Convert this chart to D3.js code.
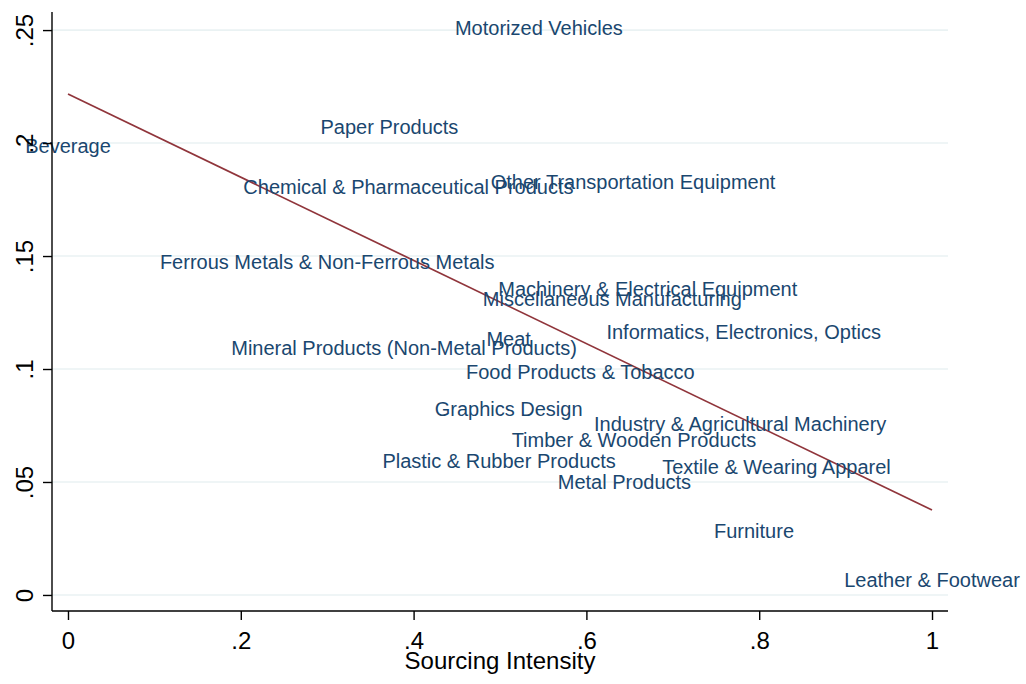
<!DOCTYPE html>
<html>
<head>
<meta charset="utf-8">
<script src="https://cdn.jsdelivr.net/npm/d3@7"></script>
<style>
  body { margin: 0; background: #fff; }
  svg { display: block; font-family: "Liberation Sans", Arial, Helvetica, sans-serif; }
  .grid line { stroke: #eaf2f3; stroke-width: 1.6; }
  .lbl { fill: #1a476f; font-size: 20px; }
  .fit { stroke: #90353b; stroke-width: 1.7; fill: none; }
</style>
</head>
<body>
<div id="chart"></div>
<script>
// industries, sourcing intensity (x) and share (y)
var industries = [
    'Motorized Vehicles', 'Paper Products', 'Beverage',
    'Chemical & Pharmaceutical Products', 'Other Transportation Equipment',
    'Ferrous Metals & Non-Ferrous Metals', 'Machinery & Electrical Equipment',
    'Miscellaneous Manufacturing', 'Informatics, Electronics, Optics', 'Meat',
    'Mineral Products (Non-Metal Products)', 'Food Products & Tobacco',
    'Graphics Design', 'Industry & Agricultural Machinery',
    'Timber & Wooden Products', 'Plastic & Rubber Products',
    'Textile & Wearing Apparel', 'Metal Products', 'Furniture', 'Leather & Footwear'
];
var sourcing = [0.545, 0.372, 0.000, 0.394, 0.654, 0.300, 0.671, 0.630, 0.782, 0.510,
                0.389, 0.593, 0.510, 0.778, 0.655, 0.499, 0.820, 0.644, 0.794, 1.000];
var share = [0.2509, 0.2071, 0.1987, 0.1805, 0.1827, 0.1473, 0.1354, 0.1310, 0.1164, 0.1133,
             0.1093, 0.0987, 0.0823, 0.0757, 0.0686, 0.0593, 0.0566, 0.0500, 0.0283, 0.0066];
// fitted line endpoints (x = 0 and x = 1)
var fitX = [0, 1];
var fitY = [0.2217, 0.0376];

var xTicks = [0, 0.2, 0.4, 0.6, 0.8, 1];
var yTicks = [0, 0.05, 0.1, 0.15, 0.2, 0.25];

(function() {
    var width = 1026, height = 684;
    var m = { left: 52, right: 948, top: 12, bottom: 611 };

    var fmt = function(d) {
        if (d === 0) return '0';
        if (d === 1) return '1';
        return String(d).replace(/^0/, '');
    };

    var x = d3.scaleLinear().domain([-0.0185, 1.0185]).range([m.left, m.right]);
    var y = d3.scaleLinear().domain([-0.0071, 0.2580]).range([m.bottom, m.top]);

    var svg = d3.select('#chart').append('svg')
        .attr('width', width)
        .attr('height', height);

    svg.append('rect').attr('width', width).attr('height', height).attr('fill', '#fff');

    // gridlines
    svg.append('g').classed('grid', true)
        .selectAll('line')
        .data(yTicks)
        .enter().append('line')
        .attr('x1', m.left).attr('x2', m.right)
        .attr('y1', function(d) { return y(d); })
        .attr('y2', function(d) { return y(d); });

    // fit line
    svg.append('line').classed('fit', true)
        .attr('x1', x(fitX[0])).attr('y1', y(fitY[0]))
        .attr('x2', x(fitX[1])).attr('y2', y(fitY[1]));

    // marker labels, centred on the point
    svg.append('g')
        .selectAll('text')
        .data(industries)
        .enter().append('text')
        .classed('lbl', true)
        .attr('x', function(d, i) { return x(sourcing[i]); })
        .attr('y', function(d, i) { return y(share[i]) + 7; })
        .attr('text-anchor', 'middle')
        .text(function(d) { return d; });

    // axes
    var xAxis = d3.axisBottom(x).tickValues(xTicks).tickFormat(fmt).tickSize(9).tickPadding(12);
    var gx = svg.append('g')
        .attr('transform', 'translate(0,' + m.bottom + ')')
        .call(xAxis);
    gx.select('.domain').attr('d', 'M' + m.left + ',0H' + m.right).attr('stroke', '#000').attr('stroke-width', 1.4);
    gx.selectAll('.tick line').attr('stroke-width', 1.4);
    gx.selectAll('.tick text').attr('font-size', 24).attr('font-family', null).attr('fill', '#000');

    var yAxis = d3.axisLeft(y).tickValues(yTicks).tickFormat(fmt).tickSize(9).tickPadding(9);
    var gy = svg.append('g')
        .attr('transform', 'translate(' + m.left + ',0)')
        .call(yAxis);
    gy.select('.domain').attr('d', 'M0,' + m.top + 'V' + m.bottom).attr('stroke', '#000').attr('stroke-width', 1.4);
    gy.selectAll('.tick line').attr('stroke-width', 1.4);
    gy.selectAll('.tick text')
        .attr('font-size', 24).attr('font-family', null).attr('fill', '#000')
        .attr('x', null).attr('dy', null)
        .attr('text-anchor', 'middle')
        .attr('transform', 'translate(-19,0) rotate(-90)');

    // axis title
    svg.append('text')
        .attr('x', (m.left + m.right) / 2)
        .attr('y', 669)
        .attr('text-anchor', 'middle')
        .attr('font-size', 24)
        .text('Sourcing Intensity');
})();
</script>
</body>
</html>
